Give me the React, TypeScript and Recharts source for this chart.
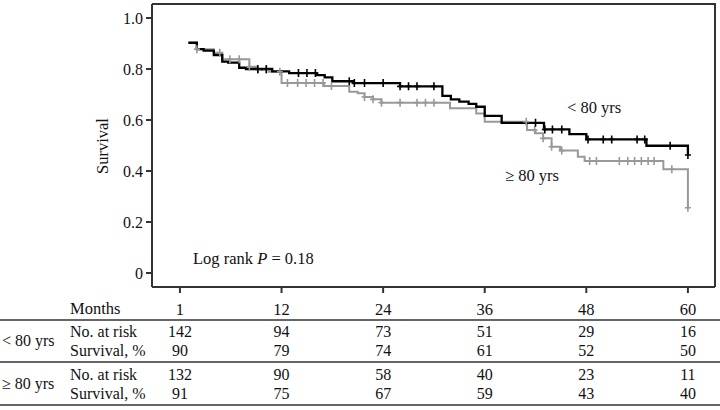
import { ComposedChart, Line, Scatter, XAxis, YAxis } from 'recharts';

// Kaplan-Meier step curves (months, survival)
const under80Months = [1, 2, 2.8, 4, 5, 5.7, 7, 7.8, 10.9, 12.9, 16.1, 17.1, 18, 20.5, 26, 31, 32, 33, 34.1, 35, 36, 38, 43, 46, 48, 55.1, 60];
const under80Surv = [0.903, 0.878, 0.872, 0.855, 0.829, 0.825, 0.805, 0.8, 0.791, 0.784, 0.776, 0.767, 0.752, 0.745, 0.732, 0.695, 0.681, 0.672, 0.663, 0.652, 0.616, 0.589, 0.563, 0.545, 0.524, 0.499, 0.463];
const over80Months = [1, 2, 4, 5, 8.2, 9, 10.5, 12, 17, 20, 21, 21.8, 22.8, 23.8, 31.9, 35, 36, 41, 42, 42.9, 43.9, 44.9, 47, 47.8, 57.1, 60];
const over80Surv = [0.903, 0.878, 0.864, 0.838, 0.809, 0.796, 0.789, 0.745, 0.733, 0.711, 0.705, 0.69, 0.681, 0.668, 0.646, 0.626, 0.593, 0.561, 0.548, 0.528, 0.495, 0.48, 0.456, 0.439, 0.407, 0.256];

// censored observations (months)
const under80Censor = [9.2, 10.2, 14, 15, 16, 20, 20.6, 21.8, 24, 26, 27, 28, 30, 42, 43.1, 44, 45.1, 48.2, 50, 51, 54, 54.9, 57.9, 60];
const over80Censor = [2, 4.7, 5.9, 7, 8.2, 9.2, 10.2, 11.8, 12.7, 13.9, 14.9, 15.9, 16.9, 17.9, 21.8, 22.8, 23.8, 26, 28, 29, 30, 40.9, 41.9, 42.9, 43.9, 45.1, 48.4, 49.2, 51.9, 52.9, 53.7, 54.5, 55.3, 56, 58.1, 60];

const tickMonths = [0, 12, 24, 36, 48, 60];
const tickLabels = ['1', '12', '24', '36', '48', '60'];
const yTicks = [0, 0.2, 0.4, 0.6, 0.8, 1.0];

const under80AtRisk = [142, 94, 73, 51, 29, 16];
const under80SurvPct = [90, 79, 74, 61, 52, 50];
const over80AtRisk = [132, 90, 58, 40, 23, 11];
const over80SurvPct = [91, 75, 67, 59, 43, 40];

const X_DOMAIN = [-3.3, 63.2];
const Y_DOMAIN = [-0.055, 1.055];
const W = 720;
const CHART_H = 320;
const PLOT_LEFT = 152;
const PLOT_RIGHT = 5;
const PLOT_TOP = 4;
const X_AXIS_H = 33;
const FONT = "'Liberation Serif', 'Times New Roman', serif";
const AXIS = '#333';

const toPoints = (months: number[], surv: number[]) => months.map((m, i) => ({ m, s: surv[i] }));
const survAt = (months: number[], surv: number[], t: number) => {
  let v = surv[0];
  months.forEach((m, i) => { if (m <= t) v = surv[i]; });
  return v;
};
const censorPoints = (times: number[], months: number[], surv: number[]) =>
  times.map((m) => ({ m, s: survAt(months, surv, m) }));

const under80 = toPoints(under80Months, under80Surv);
const over80 = toPoints(over80Months, over80Surv);
const under80Marks = censorPoints(under80Censor, under80Months, under80Surv);
const over80Marks = censorPoints(over80Censor, over80Months, over80Surv);

// same linear mapping the x axis uses, for the risk table columns
const plotW = W - PLOT_LEFT - PLOT_RIGHT;
const plotH = CHART_H - PLOT_TOP - X_AXIS_H;
const xPos = (m: number) => PLOT_LEFT + ((m - X_DOMAIN[0]) / (X_DOMAIN[1] - X_DOMAIN[0])) * plotW;

const plus = (color: string) => (props: any) => {
  const { cx, cy } = props;
  return (
    <path
      d={`M${cx - 3},${cy} L${cx + 3},${cy} M${cx},${cy - 4} L${cx},${cy + 4}`}
      stroke={color}
      strokeWidth={1.6}
      fill="none"
    />
  );
};

const txt = { fontFamily: FONT, fontSize: 16.5, fill: '#111' };
const cell = { fontFamily: FONT, fontSize: 16, fill: '#111' };

export default function App() {
  const rows: { y: number; label: string; values: (string | number)[] }[] = [
    { y: 331, label: 'No. at risk', values: under80AtRisk },
    { y: 350, label: 'Survival, %', values: under80SurvPct },
    { y: 374, label: 'No. at risk', values: over80AtRisk },
    { y: 393, label: 'Survival, %', values: over80SurvPct },
  ];
  return (
    <div style={{ position: 'absolute', left: 0, top: 0, width: W, height: 410, background: '#fff' }}>
      <ComposedChart width={W} height={CHART_H} margin={{ top: PLOT_TOP, right: PLOT_RIGHT, bottom: 0, left: 0 }}>
        <XAxis
          xAxisId="b"
          type="number"
          dataKey="m"
          domain={X_DOMAIN}
          allowDataOverflow
          ticks={tickMonths}
          tickFormatter={(v: number) => tickLabels[tickMonths.indexOf(v)]}
          height={X_AXIS_H}
          tickSize={6}
          tickMargin={10}
          stroke={AXIS}
          strokeWidth={2}
          tick={{ fontFamily: FONT, fontSize: 16.5, fill: '#111' }}
        />
        <YAxis
          yAxisId="l"
          type="number"
          domain={Y_DOMAIN}
          allowDataOverflow
          ticks={yTicks}
          tickFormatter={(v: number) => (v === 0 ? '0' : v.toFixed(1))}
          width={PLOT_LEFT}
          tickSize={6}
          tickMargin={3}
          stroke={AXIS}
          strokeWidth={2}
          tick={{ fontFamily: FONT, fontSize: 16, fill: '#111' }}
        />
        <Line xAxisId="b" yAxisId="l" data={over80} dataKey="s" type="stepAfter" stroke="#999" strokeWidth={2} dot={false} isAnimationActive={false} />
        <Scatter xAxisId="b" yAxisId="l" data={over80Marks} dataKey="s" shape={plus('#999')} isAnimationActive={false} />
        <Line xAxisId="b" yAxisId="l" data={under80} dataKey="s" type="stepAfter" stroke="#000" strokeWidth={2.3} dot={false} isAnimationActive={false} />
        <Scatter xAxisId="b" yAxisId="l" data={under80Marks} dataKey="s" shape={plus('#000')} isAnimationActive={false} />
      </ComposedChart>
      <svg width={W} height={410} style={{ position: 'absolute', left: 0, top: 0, pointerEvents: 'none' }}>
        {/* top and right edges of the plot frame */}
        <path
          d={`M${PLOT_LEFT},${PLOT_TOP} L${PLOT_LEFT + plotW},${PLOT_TOP} L${PLOT_LEFT + plotW},${PLOT_TOP + plotH}`}
          stroke={AXIS}
          strokeWidth={2}
          fill="none"
        />
        <text {...txt} x={102} y={146} transform="rotate(-90 102 146)" textAnchor="middle" dominantBaseline="central">Survival</text>
        <text {...txt} x={567} y={107} dominantBaseline="central">&lt; 80 yrs</text>
        <text {...txt} x={505} y={175} dominantBaseline="central">≥ 80 yrs</text>
        <text {...txt} x={193} y={258} dominantBaseline="central">
          Log rank <tspan fontStyle="italic">P</tspan> = 0.18
        </text>
        <text {...txt} x={70} y={308} dominantBaseline="central">Months</text>
        <line x1={0} x2={W} y1={320} y2={320} stroke={AXIS} strokeWidth={1.5} />
        <line x1={0} x2={W} y1={362} y2={362} stroke={AXIS} strokeWidth={1.5} />
        <line x1={0} x2={W} y1={405} y2={405} stroke={AXIS} strokeWidth={1.5} />
        <text {...cell} x={2} y={340.5} dominantBaseline="central">&lt; 80 yrs</text>
        <text {...cell} x={2} y={383.5} dominantBaseline="central">≥ 80 yrs</text>
        {rows.map((r, i) => (
          <g key={i}>
            <text {...cell} x={70} y={r.y} dominantBaseline="central">{r.label}</text>
            {r.values.map((v, j) => (
              <text key={j} {...cell} x={xPos(tickMonths[j])} y={r.y} textAnchor="middle" dominantBaseline="central">{v}</text>
            ))}
          </g>
        ))}
      </svg>
    </div>
  );
}
